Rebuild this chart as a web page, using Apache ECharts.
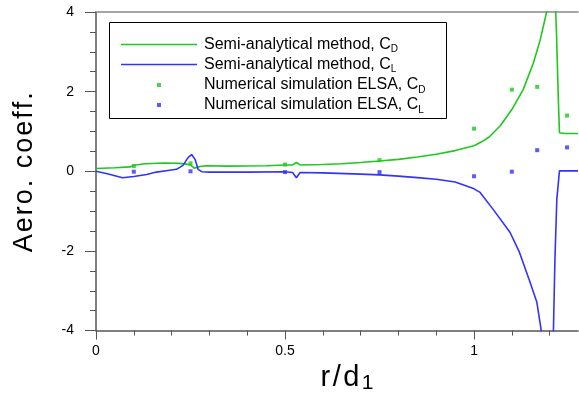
<!DOCTYPE html>
<html>
<head>
<meta charset="utf-8">
<script src="https://cdn.jsdelivr.net/npm/echarts@6/dist/echarts.min.js"></script>
<style>html,body{margin:0;padding:0;background:#fff}#c{width:579px;height:399px}</style>
</head>
<body>
<div id="c"></div>
<script>
// ---- data ----
var cdCurveX = [0, 0.05, 0.09, 0.1, 0.13, 0.18, 0.22, 0.24, 0.25, 0.26, 0.265, 0.275, 0.29, 0.35, 0.45, 0.5, 0.52, 0.53, 0.54, 0.6, 0.65, 0.7, 0.75, 0.8, 0.85, 0.9, 0.95, 1.0, 1.02, 1.04, 1.07, 1.1, 1.13, 1.157, 1.175, 1.192, 1.2, 1.21, 1.216, 1.218, 1.223, 1.226, 1.24, 1.275];
var cdCurveY = [0.07, 0.09, 0.11, 0.15, 0.19, 0.21, 0.2, 0.18, 0.16, 0.08, 0.05, 0.12, 0.14, 0.13, 0.14, 0.16, 0.16, 0.22, 0.16, 0.17, 0.19, 0.22, 0.26, 0.3, 0.36, 0.43, 0.52, 0.64, 0.74, 0.86, 1.15, 1.55, 2.05, 2.72, 3.3, 4.0, 4.6, 4.6, 4.0, 3.5, 1.8, 0.97, 0.95, 0.95];
var clCurveX = [0, 0.03, 0.07, 0.1, 0.134, 0.16, 0.19, 0.213, 0.23, 0.244, 0.253, 0.262, 0.27, 0.28, 0.3, 0.4, 0.5, 0.52, 0.53, 0.54, 0.6, 0.7, 0.75, 0.8, 0.85, 0.9, 0.95, 0.98, 1.0, 1.016, 1.05, 1.095, 1.12, 1.148, 1.166, 1.177, 1.185, 1.205, 1.21, 1.214, 1.219, 1.226, 1.275];
var clCurveY = [0.0, -0.06, -0.16, -0.13, -0.08, -0.02, 0.02, 0.05, 0.15, 0.35, 0.42, 0.3, 0.05, -0.01, -0.02, -0.02, -0.01, -0.03, -0.16, -0.03, -0.04, -0.07, -0.09, -0.12, -0.16, -0.2, -0.27, -0.37, -0.44, -0.53, -0.95, -1.53, -2.03, -2.78, -3.28, -3.95, -4.6, -4.6, -4.0, -2.2, -0.7, 0.01, 0.01];
var elsaX = [0.1, 0.25, 0.5, 0.75, 1.0, 1.1, 1.167, 1.246];
var elsaCD = [0.13, 0.2, 0.17, 0.28, 1.07, 2.05, 2.12, 1.4];
var elsaCL = [-0.01, 0.0, -0.02, -0.02, -0.125, -0.01, 0.53, 0.6];
var xMinorTicks = [0, 0.1, 0.2, 0.3, 0.4, 0.5, 0.6, 0.7, 0.8, 0.9, 1.0, 1.1, 1.2];
var xMajorTicks = [0, 0.5, 1];
var seriesNames = ['Semi-analytical method, C_D', 'Semi-analytical method, C_L', 'Numerical simulation ELSA, C_D', 'Numerical simulation ELSA, C_L'];

function zip(a, b) { return a.map(function (v, i) { return [v, b[i]]; }); }
function spaced(s, style) { return s.split('').map(function (ch) { return '{' + style + '|' + ch + '}'; }).join(''); }
function legendFmt(gap) {
  return function (name) {
    var m = name.match(/^(.*)_(\w)$/);
    return '{g' + gap + '|}{t|' + m[1] + '}{s|' + m[2] + '}';
  };
}

var GREEN = '#1ec81e', BLUE = '#3232ff';
var FONT = '"Liberation Sans", Arial, sans-serif';
var LINE_ICON = 'path://M0,0H76V1.6H0Z';
var legendRich = {
  t: { fontSize: 16, fontFamily: FONT, color: '#000', lineHeight: 20 },
  s: { fontSize: 10, fontFamily: FONT, color: '#000', verticalAlign: 'bottom', lineHeight: 10 },
  g2: { width: 2 },
  g38: { width: 38 }
};

var chart = echarts.init(document.getElementById('c'), null, { renderer: 'canvas' });
chart.setOption({
  animation: false,
  backgroundColor: '#fff',
  grid: { left: 96, top: 12, width: 482, height: 320, containLabel: false },
  graphic: [{
    type: 'rect', z: 1,
    shape: { x: 109.5, y: 22.5, width: 337, height: 96 },
    style: { fill: '#fff', stroke: '#000', lineWidth: 1 }
  }],
  legend: [{
    data: [{ name: seriesNames[0], icon: LINE_ICON }, { name: seriesNames[1], icon: LINE_ICON }],
    orient: 'vertical', left: 116, top: 31.5, itemGap: 2,
    itemWidth: 76, itemHeight: 14, z: 5,
    formatter: legendFmt(2),
    textStyle: { rich: legendRich }
  }, {
    data: [seriesNames[2], seriesNames[3]],
    orient: 'vertical', left: 152, top: 72, itemGap: 2,
    itemWidth: 4, itemHeight: 4, z: 5,
    formatter: legendFmt(38),
    textStyle: { rich: legendRich }
  }],
  xAxis: [{
    type: 'value', min: 0, max: 1.275, interval: 0.1, position: 'bottom',
    axisLine: { show: true, onZero: false, lineStyle: { color: '#555', width: 1.5 } },
    axisTick: { show: true, inside: false, length: 5, customValues: xMinorTicks, lineStyle: { color: '#555' } },
    axisLabel: { show: false },
    splitLine: { show: false }
  }, {
    type: 'value', min: 0, max: 1.275, interval: 0.5, position: 'bottom',
    axisLine: { show: false, onZero: false },
    axisTick: { show: true, inside: false, length: 9, customValues: xMajorTicks, lineStyle: { color: '#555' } },
    axisLabel: { show: true, customValues: xMajorTicks, margin: 14, fontSize: 14, fontFamily: FONT, color: '#000' },
    splitLine: { show: false },
    name: spaced('r/d', 'c') + '{s|1}',
    nameLocation: 'middle', nameGap: 29,
    nameTextStyle: {
      padding: [0, 0, 0, 20],
      rich: {
        c: { fontSize: 29, fontFamily: FONT, color: '#000', padding: [0, 2.5, 0, 0], lineHeight: 32 },
        s: { fontSize: 21, fontFamily: FONT, color: '#000', verticalAlign: 'bottom', lineHeight: 12 }
      }
    }
  }, {
    type: 'value', min: 0, max: 1.275, position: 'top',
    axisLine: { show: true, onZero: false, lineStyle: { color: '#888', width: 1.5 } },
    axisTick: { show: false }, axisLabel: { show: false }, splitLine: { show: false }
  }],
  yAxis: {
    type: 'value', min: -4, max: 4, interval: 2,
    axisLine: { show: true, onZero: false, lineStyle: { color: '#555', width: 1.5 } },
    axisTick: { show: true, inside: false, length: 11, lineStyle: { color: '#555' } },
    minorTick: { show: true, splitNumber: 4, length: 6, lineStyle: { color: '#555' } },
    axisLabel: { margin: 22, fontSize: 14, fontFamily: FONT, color: '#000' },
    splitLine: { show: false },
    name: spaced('Aero. coeff.', 'c'),
    nameLocation: 'middle', nameRotate: 90, nameGap: 58,
    nameTextStyle: {
      rich: { c: { fontSize: 27, fontFamily: FONT, color: '#000', padding: [0, 2, 0, 0] } }
    }
  },
  series: [{
    name: seriesNames[0], type: 'line', xAxisIndex: 0, data: zip(cdCurveX, cdCurveY),
    symbol: 'none', clip: true, lineStyle: { color: GREEN, width: 1.6 }, itemStyle: { color: GREEN }
  }, {
    name: seriesNames[1], type: 'line', xAxisIndex: 0, data: zip(clCurveX, clCurveY),
    symbol: 'none', clip: true, lineStyle: { color: BLUE, width: 1.6 }, itemStyle: { color: BLUE }
  }, {
    name: seriesNames[2], type: 'scatter', xAxisIndex: 0, data: zip(elsaX, elsaCD),
    symbol: 'rect', symbolSize: 4, itemStyle: { color: GREEN }
  }, {
    name: seriesNames[3], type: 'scatter', xAxisIndex: 0, data: zip(elsaX, elsaCL),
    symbol: 'rect', symbolSize: 4, itemStyle: { color: BLUE }
  }]
});
</script>
</body>
</html>
